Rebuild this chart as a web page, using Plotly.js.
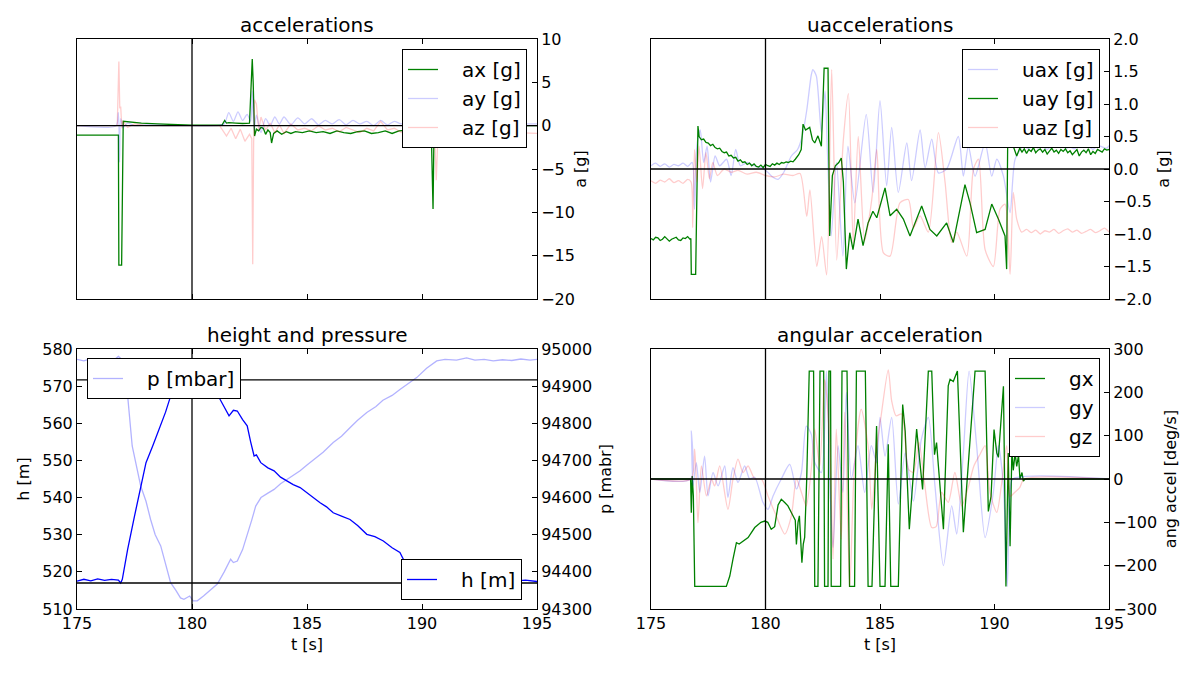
<!DOCTYPE html>
<html><head><meta charset="utf-8">
<script src="https://cdn.plot.ly/plotly-3.0.1.min.js"></script>
<style>html,body{margin:0;padding:0;background:#fff}#plot{width:1200px;height:675px}</style>
</head><body><div id="plot"></div>
<script>
// ---------- data ----------
const refTime = 180;
const hRefLines = [571.7, 517];

// accelerations [g]
const axT = [175,176.8,176.82,176.94,177.01,177.3,177.8,178.5,179.3,180,181.3,181.36,181.42,181.5,181.6,181.9,182.2,182.5,182.62,182.66,182.72,182.8,182.9,183.0,183.1,183.2,183.3,183.4,183.46,183.55,183.7,183.9,184.1,184.3,184.5,184.8,185.1,185.4,185.7,186.0,186.3,186.6,186.9,187.2,187.5,187.8,188.1,188.4,188.7,189.0,189.5,190.0,190.4,190.48,190.52,190.58,190.7,191,192,195];
const axV = [-1.1,-1.1,-16.1,-16.1,0.5,0.4,0.3,0.2,0.1,0.05,0.05,0.4,0.6,0.3,0.35,0.3,0.25,0.3,7.7,5,-1.2,-0.4,-0.6,-0.2,-0.3,-1.0,-0.5,-0.8,-2.0,-0.9,-0.6,-1.0,-0.7,-0.9,-0.7,-0.8,-0.6,-0.8,-0.7,-0.9,-0.6,-0.8,-0.9,-0.7,-0.6,-0.9,-0.8,-0.6,-0.9,-0.6,-0.5,-0.8,-0.3,-9.6,-1.0,0.2,-0.3,0,0,0];
const ayT = [175,176.7,176.8,176.85,176.9,177.0,177.2,177.5,178,179,180,181,181.4,181.6,181.8,182.0,182.2,182.4,182.55,182.62,182.7,182.8,183.0,183.2,183.4,183.6,183.8,184.0,184.3,184.6,184.9,185.2,185.5,185.8,186.1,186.4,186.7,187.0,187.3,187.6,187.9,188.2,188.5,188.8,189.1,189.4,189.7,190.0,190.3,190.5,190.6,190.7,191,195];
const ayV = [0,0,1.5,-4.2,0.8,-0.2,0.3,0,0.1,0,0,0,0.2,1.5,0.5,1.6,0.6,1.3,0.5,4,-0.5,1.2,-0.8,0.8,0,1.0,0.2,1.0,0.1,0.9,0.2,0.8,0.1,0.6,0.2,0.7,0.1,0.6,0.2,0.5,0,0.6,0.1,0.5,0.2,0.6,0.1,0.4,0.3,-2,1,0,0.2,0.2];
const azT = [175,176.75,176.82,176.86,176.9,176.95,177.0,177.2,177.5,178,180,181.2,181.5,181.7,181.9,182.1,182.3,182.5,182.6,182.64,182.68,182.72,182.8,182.9,183.0,183.2,183.4,183.6,183.8,184.0,184.3,184.6,184.9,185.2,185.5,185.8,186.1,186.4,186.7,187.0,187.3,187.6,187.9,188.2,188.5,188.8,189.1,189.4,189.7,190.0,190.3,190.55,190.62,190.7,191,192,195];
const azV = [0,0,7.4,2,2.2,-0.3,0.5,-0.2,0.2,0,0,0,-1.2,-0.3,-1.5,-0.4,-1.8,-1.0,-1.5,-16,-2,3.0,2.5,-0.5,1.0,-0.5,0.3,-0.8,0.1,-0.9,0.2,-0.5,-0.3,-0.6,0.0,-0.5,-0.3,-0.7,-0.2,-0.5,-0.8,-0.3,-0.6,0.5,-0.5,-0.3,-0.8,-0.4,-0.9,-0.6,-0.5,-1,-6.3,-0.6,-0.7,-0.6,-0.9];

// uaccelerations [g]
const uaxT = [175,175.2,175.4,175.6,175.8,176.0,176.2,176.4,176.6,176.8,176.9,177.0,177.15,177.3,177.45,177.6,177.8,178.0,178.3,178.5,178.7,178.9,179.2,179.5,179.8,180.1,180.3,180.55,180.8,181.13,181.4,181.6,181.8,182.0,182.07,182.22,182.44,182.6,182.7,182.87,183.1,183.38,183.6,183.9,184.4,184.7,185.0,185.29,185.51,185.8,186.17,186.38,186.75,186.97,187.26,187.55,187.91,188.42,188.64,188.86,189.15,189.59,189.88,190.1,190.39,190.68,190.9,191.26,191.5,191.7,191.9,192.1,192.3,192.5,192.7,192.9,193.1,193.3,193.5,193.7,193.9,194.1,194.3,194.5,194.7,194.9,195];
const uaxV = [0.05,0.09,0.04,0.08,0.03,0.07,0.05,0.09,0.04,0.1,-0.62,0.35,0.6,0.1,0.35,-0.2,0.2,0.05,0.15,-0.1,0.3,0.05,0.1,0.05,0.02,-0.05,-0.12,-0.16,-0.05,0.2,0.3,0.5,0.9,1.45,1.53,1.43,0.56,1.2,0.3,-1.03,0.1,-1.34,0.35,-0.52,0.84,-0.36,1.05,-0.26,0.64,-0.36,0.4,-0.18,0.6,0.02,0.46,-0.06,0.0,0.5,-0.11,0.35,-0.11,0.4,-0.11,0.15,-0.11,-0.67,0.15,0.35,0.31,0.37,0.32,0.35,0.3,0.36,0.33,0.38,0.32,0.34,0.31,0.37,0.33,0.35,0.3,0.36,0.34,0.32,0.36];
const uayT = [175,175.1,175.2,175.3,175.4,175.5,175.6,175.7,175.8,175.9,176.0,176.1,176.2,176.3,176.4,176.5,176.6,176.7,176.74,176.76,176.95,177.05,177.1,177.15,177.2,177.3,177.4,177.5,177.6,177.7,177.8,177.9,178.0,178.1,178.2,178.3,178.4,178.5,178.6,178.7,178.8,178.9,179.0,179.1,179.2,179.3,179.4,179.5,179.6,179.7,179.8,179.9,180.0,180.1,180.2,180.3,180.4,180.5,180.6,180.7,180.8,180.9,181.0,181.1,181.2,181.3,181.45,181.56,181.64,181.75,181.93,182.05,182.15,182.29,182.44,182.56,182.73,182.8,182.92,183.05,183.2,183.31,183.4,183.53,183.68,183.82,184.04,184.26,184.48,184.69,184.86,185.22,185.44,185.73,186.02,186.31,186.82,187.18,187.48,187.91,188.2,188.71,188.93,189.22,189.59,189.88,190.17,190.46,190.53,190.58,190.7,190.82,190.97,191.1,191.2,191.3,191.4,191.5,191.6,191.7,191.8,191.9,192.0,192.1,192.2,192.3,192.4,192.5,192.6,192.7,192.8,192.9,193.0,193.1,193.2,193.3,193.4,193.5,193.6,193.7,193.8,193.9,194.0,194.1,194.2,194.3,194.4,194.5,194.6,194.7,194.8,194.9,195];
const uayV = [-1.07,-1.09,-1.05,-1.06,-1.1,-1.08,-1.04,-1.07,-1.11,-1.08,-1.06,-1.05,-1.09,-1.1,-1.06,-1.07,-1.04,-1.08,-1.07,-1.62,-1.62,0.66,0.5,0.47,0.45,0.46,0.41,0.4,0.36,0.38,0.33,0.31,0.32,0.27,0.25,0.26,0.2,0.21,0.17,0.18,0.12,0.14,0.1,0.11,0.07,0.09,0.05,0.08,0.04,0.03,0.06,0.02,0.07,0.05,0.04,0.08,0.06,0.09,0.07,0.1,0.09,0.11,0.1,0.12,0.11,0.15,0.22,0.3,0.69,0.6,0.64,0.45,0.4,0.51,0.35,1.55,1.55,-1.03,-0.1,0.05,0.1,0.17,-0.2,-1.54,-0.98,-1.24,-0.77,-1.18,-0.83,-0.65,-0.75,-0.29,-0.72,-0.62,-0.77,-1.03,-0.57,-0.93,-1.03,-0.83,-1.13,-0.24,-0.52,-0.98,-0.93,-0.54,-0.77,-1.03,-1.54,0.6,0.4,0.35,0.2,0.32,0.26,0.31,0.24,0.3,0.27,0.33,0.25,0.29,0.31,0.26,0.3,0.23,0.28,0.32,0.26,0.29,0.24,0.3,0.27,0.31,0.25,0.28,0.22,0.27,0.3,0.2,0.26,0.29,0.25,0.31,0.22,0.27,0.24,0.3,0.28,0.26,0.31,0.29,0.3];
const uazT = [175,175.2,175.4,175.6,175.8,176.0,176.2,176.4,176.6,176.75,176.82,176.9,177.0,177.1,177.25,177.4,177.55,177.7,177.9,178.2,178.5,178.8,179.2,179.6,180.0,180.4,180.8,181.2,181.51,181.8,181.94,182.24,182.45,182.67,182.89,183.11,183.4,183.62,183.83,184.05,184.33,184.64,184.86,185.15,185.44,185.87,186.24,186.46,186.75,187.11,187.55,187.84,188.13,188.35,188.79,189.08,189.3,189.59,189.95,190.24,190.46,190.68,190.82,190.97,191.19,191.4,191.6,191.8,192.0,192.2,192.4,192.6,192.8,193.0,193.2,193.4,193.6,193.8,194.0,194.2,194.4,194.6,194.8,195];
const uazV = [-0.18,-0.22,-0.17,-0.2,-0.15,-0.21,-0.18,-0.22,-0.16,-0.2,-0.9,0.3,-0.2,0.35,-0.3,0.25,-0.15,0.1,-0.1,0.0,-0.05,-0.02,-0.08,-0.05,-0.1,-0.12,-0.08,-0.1,-0.07,-0.73,-0.32,-1.5,-1.04,-1.63,1.53,-1.4,0.45,1.16,-1.14,0.5,-1.1,-0.47,0.3,-1.29,-1.34,-0.52,-0.47,-0.9,-0.72,-0.97,0.56,-0.2,-1.13,-0.97,-1.34,0.0,0.15,-1.24,-1.5,-0.62,-0.54,-1.62,-0.36,-0.77,-0.97,-0.93,-0.98,-0.94,-1.0,-0.95,-0.97,-0.93,-0.99,-0.95,-0.92,-0.97,-0.94,-0.99,-0.96,-0.93,-0.98,-0.95,-0.91,-0.97];

// height [m] and pressure [mbar]
const hT = [175,175.3,175.6,175.9,176.2,176.5,176.8,176.9,176.97,177.2,177.5,177.77,178.0,178.3,178.64,178.85,179.07,179.3,179.6,180.0,180.4,180.8,181.1,181.35,181.61,181.8,181.97,182.2,182.4,182.55,182.7,182.8,182.99,183.3,183.57,183.85,184.14,184.4,184.7,184.95,185.23,185.57,185.85,186.14,186.5,186.87,187.2,187.6,187.95,188.32,188.7,189.04,189.19,189.4,189.62,189.9,190.2,190.5,191,191.5,192,192.5,193,193.5,194,194.5,195];
const hV = [517.5,518,517.6,518.1,517.7,518,517.8,517,518,526,535,543,549.4,554,559.7,563,567.3,570,571.2,571.7,571.3,569.5,567.8,565,562,563.5,563.3,561,559.3,555,551.2,551.5,549.4,548,547.2,545.5,544.5,543.5,542.7,541.5,540.4,538.6,537.5,535.9,535,534.1,532.5,530.1,529.5,528.3,526.5,525.2,523.4,522.5,522.0,520.5,519,518,517.6,517.9,517.5,517.8,517.4,517.7,517.5,517.8,517.4];
const pT = [175,175.3,175.6,175.9,176.2,176.5,176.8,176.9,177.19,177.4,177.77,178.0,178.2,178.4,178.64,178.85,179.07,179.3,179.5,179.65,179.9,180.05,180.23,180.5,180.8,181.1,181.4,181.68,181.8,181.97,182.2,182.4,182.6,182.77,183.0,183.3,183.57,183.85,184.14,184.4,184.7,185.0,185.3,185.7,186.14,186.5,186.9,187.2,187.6,188.0,188.3,188.7,189.04,189.4,189.77,190.2,190.64,191.0,191.5,191.94,192.3,192.7,193.1,193.5,193.9,194.3,194.7,195];
const pV = [94972,94968,94974,94966,94970,94965,94980,94975,94882,94739,94631,94590,94541,94500,94470,94420,94371,94350,94330,94326,94335,94322,94322,94335,94350,94367,94400,94434,94425,94429,94460,94497,94540,94577,94600,94612,94622,94637,94649,94660,94672,94688,94703,94722,94748,94765,94790,94808,94829,94845,94862,94875,94891,94908,94923,94948,94968,94972,94970,94976,94970,94972,94968,94971,94969,94973,94970,94972];

// angular acceleration [deg/s]
const gxT = [175,176.73,176.76,176.8,176.85,176.91,178.29,178.44,178.58,178.73,178.85,178.94,179.24,179.53,179.8,179.97,180.1,180.25,180.4,180.55,180.69,180.85,180.98,181.2,181.3,181.35,181.42,181.48,181.53,181.59,181.65,181.71,181.8,181.91,182.1,182.15,182.29,182.38,182.54,182.58,182.73,182.77,182.84,182.87,183.28,183.34,183.56,183.67,183.89,183.97,184.36,184.48,184.65,184.85,185.0,185.22,185.36,185.47,185.8,185.99,186.1,186.28,186.6,186.86,187.11,187.26,187.38,187.47,187.55,187.77,187.98,188.06,188.2,188.27,188.38,188.64,188.8,189.15,189.59,189.73,189.85,189.98,190.1,190.17,190.39,190.5,190.6,190.68,190.76,190.82,190.9,190.97,191.05,191.11,191.2,191.26,191.33,195];
const gxV = [0,0,-78,7,-40,-248,-248,-224,-185,-147,-150,-147,-135,-112,-100,-97,-100,-116,-110,-60,-47,-55,-62,-85,-95,-151,-100,-85,-130,-193,-150,-135,0,249,249,-248,-248,249,249,-248,-248,249,249,-248,-248,249,249,-248,-248,249,249,-248,-248,122,-248,-248,80,-248,-248,172,110,-116,115,-24,249,249,56,84,30,-116,215,230,225,234,249,-123,0,249,249,-75,-40,114,60,50,214,-248,60,-155,68,20,60,29,55,0,15,-5,0,0];
const gyT = [175,176.73,176.76,176.83,176.98,177.13,177.34,177.49,177.71,177.93,178.22,178.36,178.58,178.8,179.09,179.31,179.53,179.89,180.11,180.33,180.69,181.06,181.35,181.57,181.78,182.0,182.15,182.44,182.66,182.8,182.95,183.17,183.38,183.53,183.75,184.04,184.33,184.62,184.85,185.0,185.22,185.51,185.8,186.1,186.46,186.8,187.11,187.4,187.77,188.13,188.35,188.64,188.89,189.22,189.59,189.95,190.17,190.39,190.56,190.68,190.8,195];
const gyV = [0,0,111,-16,38,-31,53,-39,15,-16,30,-43,26,-8,30,0,4,-54,-70,-39,0,34,-23,15,122,103,38,15,249,0,-158,77,-31,200,0,77,-31,77,38,142,53,142,-58,60,-51,90,142,-16,-200,-62,-127,61,249,77,-135,-31,77,-16,-248,-31,0,0];
const gzT = [175,176.75,176.91,177.05,177.2,177.42,177.64,177.78,178.0,178.36,178.58,178.8,179.02,179.24,179.53,179.82,180.11,180.47,180.84,181.13,181.35,181.57,181.78,182.0,182.15,182.37,182.58,182.8,182.95,183.09,183.31,183.46,183.68,183.89,184.18,184.48,184.64,184.85,185.05,185.36,185.51,185.7,185.95,186.24,186.46,186.7,186.96,187.26,187.45,187.69,187.98,188.27,188.57,188.85,189.1,189.37,189.59,189.8,190.1,190.3,190.53,190.68,190.9,191.1,191.3,195];
const gzV = [0,0,69,-101,30,-39,0,-16,30,-70,0,46,15,30,0,0,-39,-85,-127,-85,0,-31,-62,23,115,30,230,92,-185,115,-139,154,-248,38,161,77,-70,69,146,252,180,146,150,23,15,85,-16,-112,-110,-31,-54,15,-62,-20,30,57,77,-31,-77,-15,77,-40,-30,-20,0,0];

// ---------- layout helpers ----------
const W = 1200, H = 675;
const FAM = 'DejaVu Sans, Verdana, sans-serif';
const F = {family: FAM, size: 16, color: '#000'};
const colX = (l, r) => [l / W, r / W];
const rowY = (top, bot) => [1 - bot / H, 1 - top / H];
const L = colX(77, 537), R = colX(651, 1109);
const T = rowY(39, 299), B = rowY(349, 609);

const green = '#008000';
const lightBlue = 'rgba(0,0,255,0.2)';
const lightRed = 'rgba(255,0,0,0.2)';
const LW = 1.3;
const PAD = '\u00a0\u00a0\u00a0';

function xax(dom, anchor, labels, title) {
  return {domain: dom, anchor: anchor, range: [175, 195], tick0: 175, dtick: 5,
    showticklabels: labels, ticks: 'inside', ticklen: 5, tickwidth: 1, tickcolor: '#000',
    showline: true, linecolor: '#000', linewidth: 1, mirror: 'ticks',
    showgrid: false, zeroline: false, tickfont: F,
    title: title ? {text: title, font: F, standoff: 6} : undefined};
}
function yax(dom, anchor, side, range, dtick, title, standoff, extra) {
  return Object.assign({domain: dom, anchor: anchor, side: side, range: range, dtick: dtick,
    ticks: 'inside', ticklen: 5, tickwidth: 1, tickcolor: '#000',
    showline: true, linecolor: '#000', linewidth: 1, mirror: true,
    showgrid: false, zeroline: false, tickfont: F,
    title: {text: title, font: F, standoff: standoff}}, extra || {});
}
const LG = (x, y, xa, ya) => ({x: x, y: y, xanchor: xa, yanchor: ya, xref: 'paper', yref: 'paper',
  bgcolor: '#fff', bordercolor: '#000', borderwidth: 1, itemwidth: 30, tracegroupgap: 0,
  font: {family: FAM, size: 20, color: '#000'}});

function line(x, y, name, color, xa, ya, lg, smooth) {
  const ln = {color: color, width: LW};
  if (smooth) { ln.shape = 'spline'; ln.smoothing = 0.7; }
  return {type: 'scatter', mode: 'lines', x: x, y: y, name: PAD + name, xaxis: xa, yaxis: ya,
    legend: lg, line: ln, hoverinfo: 'skip'};
}

const data = [
  line(axT, axV, 'ax [g]', green, 'x', 'y', 'legend'),
  line(ayT, ayV, 'ay [g]', lightBlue, 'x', 'y', 'legend', true),
  line(azT, azV, 'az [g]', lightRed, 'x', 'y', 'legend'),
  line(uaxT, uaxV, 'uax [g]', lightBlue, 'x2', 'y2', 'legend2', true),
  line(uayT, uayV, 'uay [g]', green, 'x2', 'y2', 'legend2'),
  line(uazT, uazV, 'uaz [g]', lightRed, 'x2', 'y2', 'legend2', true),
  line(pT, pV, 'p [mbar]', 'rgba(0,0,255,0.3)', 'x3', 'y4', 'legend3'),
  line(hT, hV, 'h [m]', '#0000ff', 'x3', 'y3', 'legend4'),
  line(gxT, gxV, 'gx', green, 'x4', 'y5', 'legend5'),
  line(gyT, gyV, 'gy', lightBlue, 'x4', 'y5', 'legend5', true),
  line(gzT, gzV, 'gz', lightRed, 'x4', 'y5', 'legend5', true)
];

const blk = {color: '#000', width: 1.3};
const shapes = [];
[['x', 'y'], ['x2', 'y2'], ['x3', 'y3'], ['x4', 'y5']].forEach(([xa, ya]) => {
  shapes.push({type: 'line', layer: 'above', xref: xa, yref: ya + ' domain', x0: refTime, x1: refTime, y0: 0, y1: 1, line: blk});
});
[['x', 'y'], ['x2', 'y2'], ['x4', 'y5']].forEach(([xa, ya]) => {
  shapes.push({type: 'line', layer: 'above', xref: xa + ' domain', yref: ya, x0: 0, x1: 1, y0: 0, y1: 0, line: blk});
});
hRefLines.forEach(v => shapes.push({type: 'line', layer: 'above', xref: 'x3 domain', yref: 'y3', x0: 0, x1: 1, y0: v, y1: v, line: blk}));

const TF = {family: FAM, size: 20, color: '#000'};
const ttl = (text, x, y) => ({text: text, x: x, y: y, xref: 'paper', yref: 'paper', xanchor: 'center', yanchor: 'bottom', showarrow: false, font: TF, yshift: 0});

const layout = {
  width: W, height: H, margin: {l: 0, r: 0, t: 0, b: 0},
  paper_bgcolor: '#fff', plot_bgcolor: '#fff', font: F, showlegend: true,
  xaxis: xax(L, 'y', false),
  yaxis: yax(T, 'x', 'right', [-20, 10], 5, 'a [g]', 0),
  xaxis2: xax(R, 'y2', false),
  yaxis2: yax(T, 'x2', 'right', [-2, 2], 0.5, 'a [g]', 6, {tickformat: '.1f'}),
  xaxis3: xax(L, 'y3', true, 't [s]'),
  yaxis3: yax(B, 'x3', 'left', [510, 580], 10, 'h [m]', 8),
  yaxis4: yax(B, 'x3', 'right', [94300, 95000], 100, 'p [mabr]', 8, {overlaying: 'y3', tickformat: 'd', mirror: false}),
  xaxis4: xax(R, 'y5', true, 't [s]'),
  yaxis5: yax(B, 'x4', 'right', [-300, 300], 100, 'ang accel [deg/s]', 8),
  legend: LG(527 / W, 1 - 49 / H, 'right', 'top'),
  legend2: LG(1100 / W, 1 - 49 / H, 'right', 'top'),
  legend3: LG(87 / W, 1 - 358 / H, 'left', 'top'),
  legend4: LG(522 / W, 1 - 600 / H, 'right', 'bottom'),
  legend5: LG(1100 / W, 1 - 358 / H, 'right', 'top'),
  shapes: shapes,
  annotations: [
    ttl('accelerations', (L[0] + L[1]) / 2, T[1]),
    ttl('uaccelerations', (R[0] + R[1]) / 2, T[1]),
    ttl('height and pressure', (L[0] + L[1]) / 2, B[1]),
    ttl('angular acceleration', (R[0] + R[1]) / 2, B[1])
  ]
};

Plotly.newPlot('plot', data, layout, {staticPlot: true, displayModeBar: false});
</script></body></html>
